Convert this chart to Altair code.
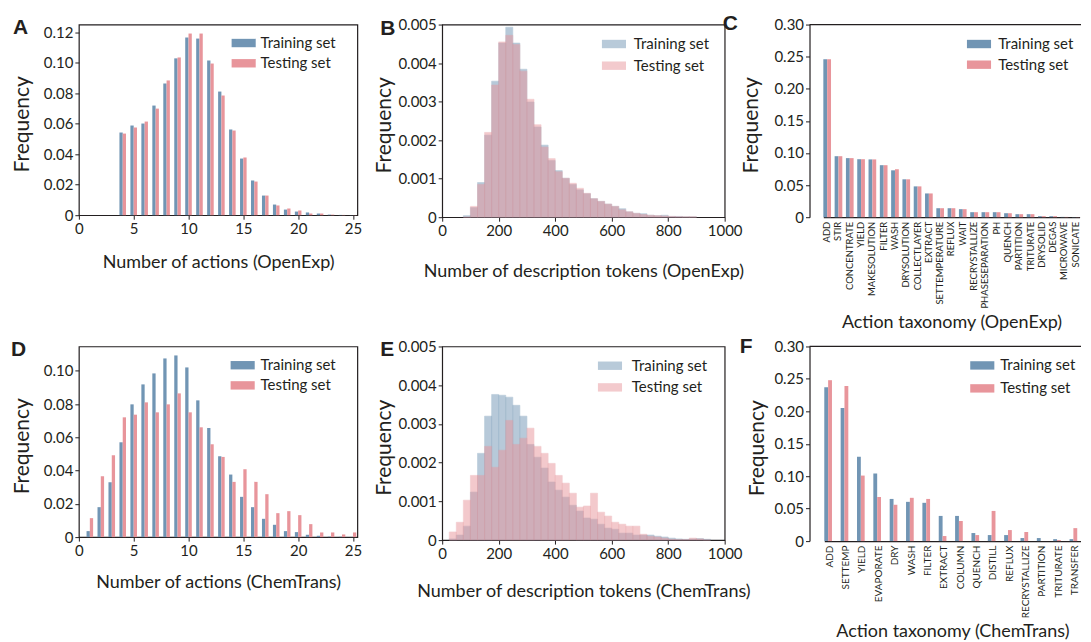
import altair as alt
import pandas as pd

FONT = "Lato"
LETTER_FONT = "Liberation Sans"
INK = "#231f20"
BLUE = "#7195b4"
PINK = "#e8959b"
SETS = ["Training set", "Testing set"]

# ---------------- data ----------------
# A: number of actions (OpenExp)
a_actions = list(range(4, 26))
a_train = [0.0543, 0.0589, 0.0602, 0.0720, 0.0865, 0.1030, 0.1167, 0.1160, 0.1016, 0.0812, 0.0563,
           0.0372, 0.0228, 0.0129, 0.0070, 0.0037, 0.0024, 0.0018, 0.0011, 0.0004, 0.0002, 0.0001]
a_test = [0.0536, 0.0576, 0.0615, 0.0700, 0.0885, 0.1036, 0.1193, 0.1193, 0.0996, 0.0786, 0.0556,
          0.0379, 0.0221, 0.0129, 0.0064, 0.0044, 0.0031, 0.0011, 0.0011, 0.0004, 0.0002, 0.0001]

# B: description tokens (OpenExp), bins of 25 tokens
b_bins = list(range(75, 900, 25))
b_train = [0.00004, 0.00025, 0.00090, 0.00213, 0.00353, 0.00452, 0.00493, 0.00452, 0.00384, 0.00299,
           0.00234, 0.00187, 0.00147, 0.00121, 0.00101, 0.00085, 0.00071, 0.00061, 0.00048, 0.00041,
           0.00034, 0.00028, 0.00022, 0.00014, 0.00010, 0.00009, 0.00005, 0.00004, 0.00005, 0.00002,
           0.00002, 0.00001, 0.00001]
b_test = [0.00000, 0.00028, 0.00085, 0.00220, 0.00343, 0.00455, 0.00472, 0.00448, 0.00379, 0.00306,
          0.00240, 0.00182, 0.00152, 0.00118, 0.00101, 0.00088, 0.00075, 0.00062, 0.00048, 0.00041,
          0.00034, 0.00028, 0.00019, 0.00014, 0.00010, 0.00007, 0.00005, 0.00004, 0.00003, 0.00002,
          0.00001, 0.00001, 0.00001]

# C: action taxonomy (OpenExp)
c_actions = ["ADD", "STIR", "CONCENTRATE", "YIELD", "MAKESOLUTION", "FILTER", "WASH", "DRYSOLUTION",
             "COLLECTLAYER", "EXTRACT", "SETTEMPERATURE", "REFLUX", "WAIT", "RECRYSTALLIZE",
             "PHASESEPARATION", "PH", "QUENCH", "PARTITION", "TRITURATE", "DRYSOLID", "DEGAS",
             "MICROWAVE", "SONICATE"]
c_train = [0.246, 0.095, 0.092, 0.0903, 0.090, 0.081, 0.073, 0.059, 0.048, 0.037, 0.014, 0.014, 0.0125,
           0.0078, 0.0078, 0.0078, 0.0062, 0.0047, 0.0047, 0.0016, 0.0016, 0.0005, 0.0003]
c_test = [0.246, 0.095, 0.092, 0.0903, 0.090, 0.081, 0.0747, 0.059, 0.048, 0.037, 0.014, 0.014, 0.0125,
          0.0078, 0.0078, 0.0078, 0.0062, 0.0047, 0.0047, 0.0016, 0.0016, 0.0005, 0.0003]

# D: number of actions (ChemTrans)
d_actions = list(range(1, 26))
d_train = [0.0036, 0.0180, 0.0330, 0.0570, 0.0798, 0.0918, 0.0984, 0.1074, 0.1092, 0.1020, 0.0822,
           0.0656, 0.0486, 0.0376, 0.0242, 0.0180, 0.0110, 0.0074, 0.0036, 0.0030, 0.0014, 0.0008,
           0.0003, 0.0002, 0.0001]
d_test = [0.0114, 0.0366, 0.0492, 0.0720, 0.0736, 0.0810, 0.0750, 0.0798, 0.0864, 0.0750, 0.0660,
          0.0558, 0.0482, 0.0332, 0.0408, 0.0332, 0.0258, 0.0144, 0.0156, 0.0132, 0.0078, 0.0028,
          0.0028, 0.0016, 0.0028]

# E: description tokens (ChemTrans), bins of 25 tokens
e_bins = list(range(25, 950, 25))
e_train = [0.00003, 0.00013, 0.00036, 0.00124, 0.00224, 0.00320, 0.00376, 0.00374, 0.00369, 0.00348,
           0.00320, 0.00247, 0.00214, 0.00186, 0.00150, 0.00129, 0.00111, 0.00090, 0.00075, 0.00057,
           0.00054, 0.00041, 0.00031, 0.00028, 0.00018, 0.00018, 0.00013, 0.00013, 0.00013, 0.00010,
           0.00008, 0.00005, 0.00003, 0.00002, 0.00003, 0.00004, 0.00002]
e_test = [0.00021, 0.00046, 0.00103, 0.00167, 0.00167, 0.00242, 0.00188, 0.00232, 0.00309, 0.00247,
          0.00263, 0.00289, 0.00242, 0.00224, 0.00198, 0.00167, 0.00147, 0.00121, 0.00085, 0.00088,
          0.00121, 0.00072, 0.00062, 0.00046, 0.00041, 0.00036, 0.00036, 0.00015, 0.00010, 0.00008,
          0.00005, 0.00002, 0.00001, 0.00001, 0.00005, 0.00003, 0.00000]

# F: action taxonomy (ChemTrans)
f_actions = ["ADD", "SETTEMP", "YIELD", "EVAPORATE", "DRY", "WASH", "FILTER", "EXTRACT", "COLUMN",
             "QUENCH", "DISTILL", "REFLUX", "RECRYSTALLIZE", "PARTITION", "TRITURATE", "TRANSFER"]
f_train = [0.237, 0.205, 0.130, 0.104, 0.065, 0.0605, 0.059, 0.0388, 0.0388, 0.0124, 0.0093, 0.0093,
           0.0047, 0.0047, 0.0030, 0.0030]
f_test = [0.248, 0.239, 0.101, 0.068, 0.056, 0.0667, 0.065, 0.0078, 0.031, 0.0093, 0.0465, 0.017,
          0.014, 0.0, 0.0016, 0.020]

# ---------------- helpers ----------------
SYM = "M-1.15,-0.4L1.15,-0.4L1.15,0.4L-1.15,0.4Z"


def long_df(keys, train, test, key):
    return pd.DataFrame({
        key: list(keys) * 2,
        "set": [SETS[0]] * len(keys) + [SETS[1]] * len(keys),
        "freq": list(train) + list(test),
    })


def color_enc(lx, ly, rowpad, laboff, opacity=1.0):
    return alt.Color(
        "set:N",
        scale=alt.Scale(domain=SETS, range=[BLUE, PINK]),
        legend=alt.Legend(
            title=None, orient="none", legendX=lx, legendY=ly,
            symbolType=SYM, symbolSize=441, symbolOpacity=opacity, symbolStrokeWidth=0,
            labelFont=FONT, labelFontSize=15, labelColor=INK, labelOffset=laboff,
            rowPadding=rowpad, padding=0, labelLimit=300,
        ),
    )


def y_enc(ymax, vals, fmt, title_x, h, domain=False):
    return alt.Y(
        "freq:Q", stack=None,
        scale=alt.Scale(domain=[0, ymax], nice=False, zero=True),
        axis=alt.Axis(
            values=vals, title="Frequency", titleFontSize=21,
            labelExpr=f"datum.value == 0 ? '0' : format(datum.value, '{fmt}')",
            titleX=title_x, titleY=h / 2 + 4, titleAngle=270, titleAlign="center",
            titleBaseline="middle",
            domain=domain, domainColor=INK, domainWidth=1.2,
        ),
    )


def letter(ch, dx, dy):
    return alt.Chart(pd.DataFrame({"t": [ch]})).mark_text(
        align="left", baseline="alphabetic", font=LETTER_FONT, fontWeight="bold",
        fontSize=21, color=INK,
    ).encode(text="t:N", x=alt.value(dx), y=alt.value(dy))


def anchor():
    # invisible corner marker: fixes the top-left extent of the whole figure
    return alt.Chart(pd.DataFrame({"t": [0]})).mark_rule(opacity=0).encode(
        x=alt.value(-70), y=alt.value(-14.5), y2=alt.value(-12))


def top_frame(length):
    # top edge of an open-right frame (the reference crops the right side of C and F)
    return alt.Chart(pd.DataFrame({"t": [0]})).mark_rule(color=INK, strokeWidth=1.2).encode(
        x=alt.value(0), x2=alt.value(length), y=alt.value(0))


def action_panel(n, train, test, h, ymax, yvals, xtitle, xtitle_y, ytitle_x, leg):
    df = long_df(n, train, test, "n")
    return alt.Chart(df).transform_calculate(
        x0="datum.set == 'Training set' ? datum.n - 0.3 : datum.n",
        x1="datum.set == 'Training set' ? datum.n : datum.n + 0.3",
    ).mark_bar().encode(
        x=alt.X("x0:Q", scale=alt.Scale(domain=[0, 25.4], nice=False, zero=False),
                axis=alt.Axis(values=[0, 5, 10, 15, 20, 25], format="d", title=xtitle,
                              titleY=xtitle_y, titleBaseline="middle",
                              labelFlush=False, labelOverlap=False)),
        x2="x1:Q",
        y=y_enc(ymax, yvals, ".2f", ytitle_x, h),
        y2=alt.datum(0),
        color=color_enc(*leg),
    )


def hist_panel(bins, train, test, h, xtitle, xtitle_y, ytitle_x, leg):
    df = long_df(bins, train, test, "start")
    sc = alt.Scale(domain=SETS, range=[BLUE, PINK])
    return alt.Chart(df).transform_calculate(
        end="datum.start + 25",
    ).mark_bar(opacity=0.5, strokeWidth=0.6).encode(
        x=alt.X("start:Q", scale=alt.Scale(domain=[0, 1000], nice=False),
                axis=alt.Axis(values=[0, 200, 400, 600, 800, 1000], format="d", title=xtitle,
                              titleY=xtitle_y, titleBaseline="middle",
                              labelFlush=False, labelOverlap=False)),
        x2="end:Q",
        y=y_enc(0.005, [0, 0.001, 0.002, 0.003, 0.004, 0.005], ".3f", ytitle_x, h),
        y2=alt.datum(0),
        color=color_enc(*leg, opacity=0.5),
        stroke=alt.Stroke("set:N", scale=sc, legend=None),
    )


def tax_panel(cats, train, test, h, xtitle, xtitle_y, ytitle_x, leg, pi, r0, r1, lsize):
    df = long_df(cats, train, test, "act")
    return alt.Chart(df).mark_bar().encode(
        x=alt.X("act:N", sort=cats,
                scale=alt.Scale(paddingInner=pi, paddingOuter=0, range=[r0, r1]),
                axis=alt.Axis(title=xtitle, titleY=xtitle_y, titleBaseline="middle",
                              labelAngle=270, labelFontSize=lsize, ticks=False, labelPadding=4,
                              domain=True, domainColor=INK, domainWidth=1.2)),
        xOffset=alt.XOffset("set:N", sort=SETS, scale=alt.Scale(paddingInner=0, paddingOuter=0)),
        y=y_enc(0.30, [0, 0.05, 0.10, 0.15, 0.20, 0.25, 0.30], ".2f", ytitle_x, h, domain=True),
        color=color_enc(*leg),
    )


# ---------------- panels ----------------
W1, W2, W3 = 279, 283, 272
OPEN = alt.ViewBackground(stroke="transparent")

pA = alt.layer(
    action_panel(a_actions, a_train, a_test, 191, 0.1252, [0, 0.02, 0.04, 0.06, 0.08, 0.10, 0.12],
                 "Number of actions (OpenExp)", 47, -56.5, (154.6, 8, 1.3, 6.4)),
    letter("A", -66, 9.5), anchor(),
).properties(width=W1, height=191)

pB = alt.layer(
    hist_panel(b_bins, b_train, b_test, 193, "Number of description tokens (OpenExp)", 54, -58,
               (161.6, 9, 2.7, 9.4)),
    letter("B", -62, 10.5),
).properties(width=W2, height=193)

pC = alt.layer(
    tax_panel(c_actions, c_train, c_test, 193, "Action taxonomy (OpenExp)", 105.5, -58,
              (159.3, 9, 1.7, 8.7), 0.32, 13.85, 270.6, 9.5),
    top_frame(W3),
    letter("C", -87, 5),
).properties(width=W3, height=193, view=OPEN)

pD = alt.layer(
    action_panel(d_actions, d_train, d_test, 191, 0.1146, [0, 0.02, 0.04, 0.06, 0.08, 0.10],
                 "Number of actions (ChemTrans)", 45, -56.5, (153.6, 8.3, 1.2, 7.4)),
    letter("D", -68, 10),
).properties(width=W1, height=191)

pE = alt.layer(
    hist_panel(e_bins, e_train, e_test, 194, "Number of description tokens (ChemTrans)", 52, -58,
               (157.6, 8.8, 2.7, 11.4)),
    letter("E", -62, 10),
).properties(width=W2, height=194)

pF = alt.layer(
    tax_panel(f_actions, f_train, f_test, 195, "Action taxonomy (ChemTrans)", 90.5, -52,
              (162.6, 8.5, 4, 7.4), 0.33, 14.8, 271.5, 10),
    top_frame(W3),
    letter("F", -70, 7),
).properties(width=W3, height=195, view=OPEN)

chart = alt.concat(
    pA, pB, pC, pD, pE, pF, columns=3,
    spacing={"row": 129.5, "column": 85}, bounds="flush",
).resolve_scale(
    color="independent", stroke="independent"
).properties(
    padding={"left": 0, "top": 0, "right": 0, "bottom": 0},
    background="white",
).configure_view(
    stroke=INK, strokeWidth=1.2,
).configure_axis(
    labelFont=FONT, titleFont=FONT, labelColor=INK, titleColor=INK, tickColor=INK,
    domain=False, grid=False, tickSize=4, tickWidth=1, labelPadding=2,
    labelFontSize=15, titleFontSize=18, titleFontWeight="normal",
)

chart.save("out.html", embed_options={"renderer": "svg", "actions": False})
